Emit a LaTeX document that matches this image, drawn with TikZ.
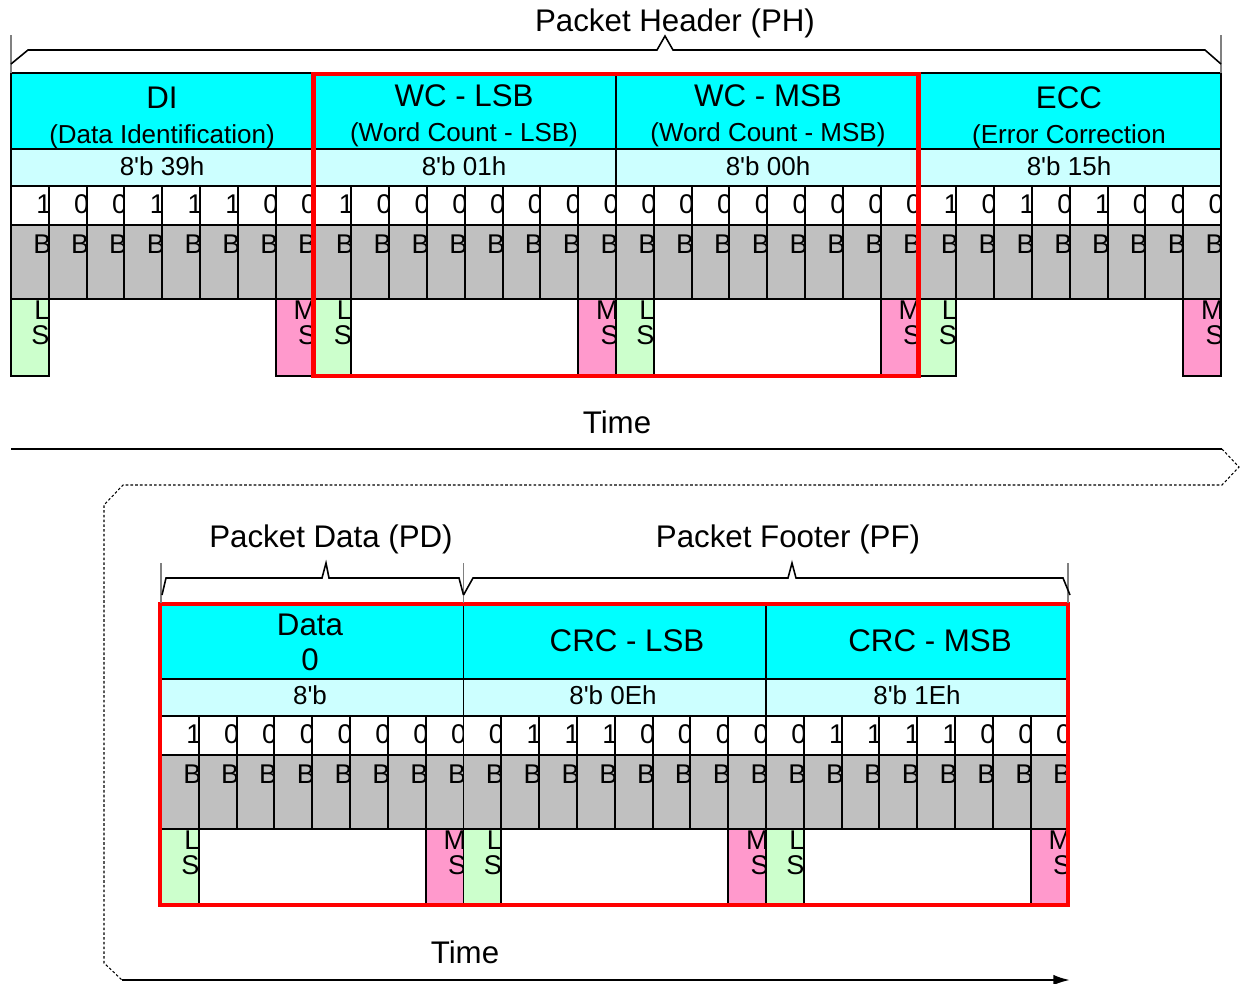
\documentclass[tikz,border=0pt]{standalone}
\usepackage{fontspec}
\setmainfont{Liberation Sans}
\usetikzlibrary{arrows.meta}
\definecolor{fieldcyan}{HTML}{00FFFF}
\definecolor{valuecyan}{HTML}{CCFFFF}
\definecolor{bitgray}{HTML}{C0C0C0}
\definecolor{lsgreen}{HTML}{CCFFCC}
\definecolor{mspink}{HTML}{FF99CC}
\definecolor{framered}{HTML}{FF0000}
\definecolor{guidegray}{HTML}{808080}
\tikzset{
  byte width/.store in=\ByteW,
  bit width/.store in=\BitW,
  byte width=302.5,
  bit width=37.8125,
  grid line/.style={black, line width=1.1pt},
  red frame/.style={draw=framered, line width=2.7pt},
  guide/.style={guidegray, line width=0.9pt},
  brace line/.style={black, line width=0.9pt, line join=miter},
  time path/.style={black, line width=0.6pt, dash pattern=on 1.5pt off 1.2pt},
  field title/.style={inner sep=0pt, font=\fontsize{17.8pt}{20pt}\selectfont},
  field sub/.style={inner sep=0pt, font=\fontsize{14.8pt}{17pt}\selectfont},
  bit text/.style={inner sep=0pt, font=\fontsize{15.4pt}{17pt}\selectfont}
}
\newcommand{\tq}{\textquotesingle}

\begin{document}
\begin{tikzpicture}[x=0.02cm, y=-0.02cm]
  \useasboundingbox (0,0) rectangle (1241,984);

  % Bytes: left x / top y / bits (LSB first)
  \foreach \bx/\by/\bits [count=\i] in {
      11/73/{1,0,0,1,1,1,0,0},
      313.5/73/{1,0,0,0,0,0,0,0},
      616/73/{0,0,0,0,0,0,0,0},
      918.5/73/{1,0,1,0,1,0,0,0},
      161/603/{1,0,0,0,0,0,0,0},
      463.5/603/{0,1,1,1,0,0,0,0},
      766/603/{0,1,1,1,1,0,0,0}}{
    % fills
    \fill[fieldcyan] (\bx,\by) rectangle ++(\ByteW,76);
    \fill[valuecyan] (\bx,\by+76) rectangle ++(\ByteW,37);
    \fill[bitgray] (\bx,\by+152) rectangle ++(\ByteW,74);
    \fill[lsgreen] (\bx,\by+226) rectangle ++(\BitW,77);
    \fill[mspink] (\bx+7*\BitW,\by+226) rectangle ++(\BitW,77);
    % bit values
    \foreach \b [count=\k] in \bits {
      \begin{scope}
        \clip (\bx+\k*\BitW-\BitW,\by+113) rectangle ++(\BitW,113);
        \node[bit text, anchor=base east] (v-\i-\k) at (\bx+\k*\BitW+3,\by+140.5) {\b};
        \node[bit text, anchor=base east] (b-\i-\k) at (\bx+\k*\BitW+3,\by+180.5) {B};
      \end{scope}
    }
    % LS / MS marks
    \begin{scope}
      \clip (\bx,\by+226) rectangle ++(\BitW,77);
      \node[bit text, anchor=base east] (ls-\i) at (\bx+\BitW+1,\by+246.5) {L};
      \node[bit text, anchor=base east] (ls-\i-s) at (\bx+\BitW+1,\by+271) {S};
    \end{scope}
    \begin{scope}
      \clip (\bx+7*\BitW,\by+226) rectangle ++(\BitW,77);
      \node[bit text, anchor=base east] (ms-\i) at (\bx+8*\BitW+3,\by+246.5) {M};
      \node[bit text, anchor=base east] (ms-\i-s) at (\bx+8*\BitW+3,\by+271) {S};
    \end{scope}
    % grid
    \draw[grid line] (\bx,\by) rectangle ++(\ByteW,226);
    \draw[grid line] (\bx,\by+76) -- ++(\ByteW,0)
                     (\bx,\by+113) -- ++(\ByteW,0)
                     (\bx,\by+152) -- ++(\ByteW,0);
    \foreach \k in {1,...,7}
      \draw[grid line] (\bx+\k*\BitW,\by+113) -- ++(0,113);
    \draw[grid line] (\bx,\by+226) rectangle ++(\BitW,77);
    \draw[grid line] (\bx+7*\BitW,\by+226) rectangle ++(\BitW,77);
  }

  % Header field names
  \node[field title, anchor=base] (di) at (162,108) {DI};
  \node[field sub, anchor=base] (di-sub) at (162,143) {(Data Identification)};
  \node[field title, anchor=base] (wcl) at (464,106) {WC - LSB};
  \node[field sub, anchor=base] (wcl-sub) at (464,141) {(Word Count - LSB)};
  \node[field title, anchor=base] (wcm) at (768,106) {WC - MSB};
  \node[field sub, anchor=base] (wcm-sub) at (768,141) {(Word Count - MSB)};
  \node[field title, anchor=base] (ecc) at (1069,108) {ECC};
  \node[field sub, anchor=base] (ecc-sub) at (1069,143) {(Error Correction};

  % Header values
  \node[field sub, anchor=base] (di-val) at (162,175) {8\tq b 39h};
  \node[field sub, anchor=base] (wcl-val) at (464,175) {8\tq b 01h};
  \node[field sub, anchor=base] (wcm-val) at (768,175) {8\tq b 00h};
  \node[field sub, anchor=base] (ecc-val) at (1069,175) {8\tq b 15h};

  % Data and footer field names
  \node[field title, anchor=base] (data) at (310,635) {Data};
  \node[field title, anchor=base] (data-n) at (310,670) {0};
  \node[field title, anchor=base] (crcl) at (627,651) {CRC - LSB};
  \node[field title, anchor=base] (crcm) at (930,651) {CRC - MSB};
  \node[field sub, anchor=base] (data-val) at (310,704) {8\tq b};
  \node[field sub, anchor=base] (crcl-val) at (613,704) {8\tq b 0Eh};
  \node[field sub, anchor=base] (crcm-val) at (917,704) {8\tq b 1Eh};

  % Red frames
  \draw[red frame] (313.5,74) rectangle (918.5,376);
  \draw[red frame] (160,604) rectangle (1068,905);

  % Guides and braces
  \draw[guide] (11,35) -- (11,73) (1221,35) -- (1221,73);
  \draw[guide] (161,563) -- (161,603) (463.5,563) -- (463.5,603) (1068,563) -- (1068,603);
  \draw[brace line] (11,64) -- (28,50) -- (657,50) -- (665,36) -- (673,50) -- (1205,50) -- (1221,64);
  \draw[brace line] (162,595) -- (166,578) -- (322,578) -- (326,563) -- (329,578) -- (459,578) -- (463.5,595);
  \draw[brace line] (463.5,595) -- (473,578) -- (788,578) -- (792,563) -- (796,578) -- (1063,578) -- (1070,595);
  \node[field title, anchor=base] (ph) at (675,31) {Packet Header (PH)};
  \node[field title, anchor=base] (pd) at (331,547) {Packet Data (PD)};
  \node[field title, anchor=base] (pf) at (788,547) {Packet Footer (PF)};

  % Time axis
  \coordinate (t-start) at (11,449);
  \coordinate (t-wrap) at (1222,449);
  \coordinate (t-back) at (122,980);
  \coordinate (t-end) at (1070,980);
  \draw[black, line width=1.5pt] (t-start) -- (t-wrap);
  \draw[time path] (t-wrap) -- (1239,467) -- (1222,485) -- (123,485) -- (104,505) -- (104,963) -- (t-back);
  \draw[black, line width=1.3pt, -{Latex[length=9.5pt, width=6pt]}] (t-back) -- (t-end);
  \node[field title, anchor=base] (time-a) at (617,433) {Time};
  \node[field title, anchor=base] (time-b) at (465,963) {Time};

\end{tikzpicture}
\end{document}
